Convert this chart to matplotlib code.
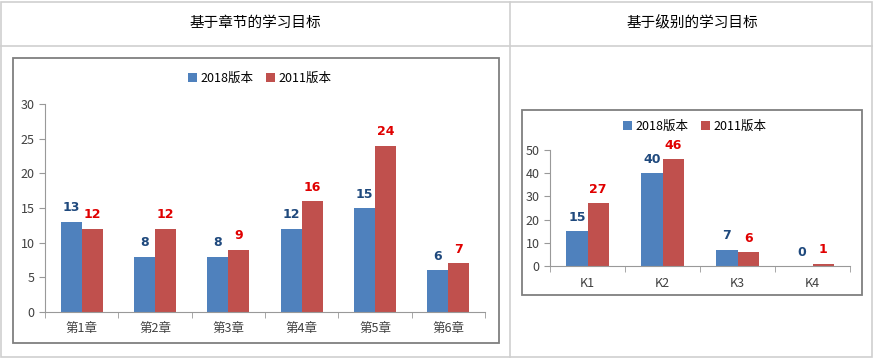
import matplotlib.pyplot as plt
from matplotlib.patches import Rectangle
from matplotlib.lines import Line2D
import numpy as np

plt.rcParams['font.family'] = ['Noto Sans CJK SC', 'DejaVu Sans']

# data
titles = ['基于章节的学习目标', '基于级别的学习目标']
series = ['2018版本', '2011版本']
chapters = ['第1章', '第2章', '第3章', '第4章', '第5章', '第6章']
ch_2018 = [13, 8, 8, 12, 15, 6]
ch_2011 = [12, 12, 9, 16, 24, 7]
levels = ['K1', 'K2', 'K3', 'K4']
lv_2018 = [15, 40, 7, 0]
lv_2011 = [27, 46, 6, 1]

W, H = 874, 361
blue, red = '#4F81BD', '#C0504D'
blue_txt, red_txt = '#1F497D', '#E00000'

fig = plt.figure(figsize=(W / 100, H / 100), dpi=100)

def fx(x):
    return x / W

def fy(y):
    return 1 - y / H

# table lines
grid = '#cfcfcf'
fig.add_artist(Rectangle((fx(1), fy(357)), fx(871), 355 / H, fill=False, ec=grid, lw=1.2))
fig.add_artist(Line2D([fx(1), fx(872)], [fy(46), fy(46)], color=grid, lw=1.2))
fig.add_artist(Line2D([fx(510), fx(510)], [fy(2), fy(357)], color=grid, lw=1.2))
fig.text(fx(255), fy(23), titles[0], ha='center', va='center', fontsize=10.5)
fig.text(fx(692), fy(23), titles[1], ha='center', va='center', fontsize=10.5)

# chart boxes
for x0, y0, x1, y1 in [(13, 58, 499, 343), (522, 110, 862, 295)]:
    fig.add_artist(Rectangle((fx(x0), fy(y1)), fx(x1 - x0), (y1 - y0) / H,
                             fill=False, ec='#7f7f7f', lw=1.3))


def bar_chart(rect, cats, a, b, ymax, step, legend_xy):
    ax = fig.add_axes(rect)
    x = np.arange(len(cats))
    w = 0.285
    ba = ax.bar(x - w / 2, a, w, color=blue, label=series[0], zorder=2)
    bb = ax.bar(x + w / 2, b, w, color=red, label=series[1], zorder=2)
    for bars, vals, c in [(ba, a, blue_txt), (bb, b, red_txt)]:
        for r, v in zip(bars, vals):
            ax.annotate(str(v), (r.get_x() + r.get_width() / 2, v), xytext=(0, 10),
                        textcoords='offset points', ha='center', va='center',
                        fontsize=9, fontweight='bold', color=c, family='DejaVu Sans')
    ax.set_xlim(-0.5, len(cats) - 0.5)
    ax.set_ylim(0, ymax)
    ax.set_yticks(np.arange(0, ymax + 1, step))
    ax.set_xticks(x)
    ax.set_xticklabels(cats, fontsize=9, color='#404040')
    ax.set_xticks(np.arange(-0.5, len(cats)), minor=True)
    ax.tick_params(axis='x', which='major', length=0, pad=8)
    ax.tick_params(axis='x', which='minor', length=4, color='#999999')
    ax.tick_params(axis='y', length=4, color='#999999', labelsize=9, labelcolor='#404040')
    for s in ['top', 'right']:
        ax.spines[s].set_visible(False)
    for s in ['left', 'bottom']:
        ax.spines[s].set_color('#999999')
    fig.legend(handles=[ba, bb], loc='center', bbox_to_anchor=legend_xy, ncol=2,
               frameon=False, fontsize=9, handlelength=0.7, handleheight=0.7,
               handletextpad=0.3, columnspacing=1.0)
    return ax


bar_chart([fx(45), fy(312), fx(440), 208 / H], chapters, ch_2018, ch_2011, 30, 5,
          (fx(260), fy(78)))
bar_chart([fx(550), fy(266), fx(300), 116 / H], levels, lv_2018, lv_2011, 50, 10,
          (fx(695), fy(126)))

fig.savefig('out.png', dpi=100)
